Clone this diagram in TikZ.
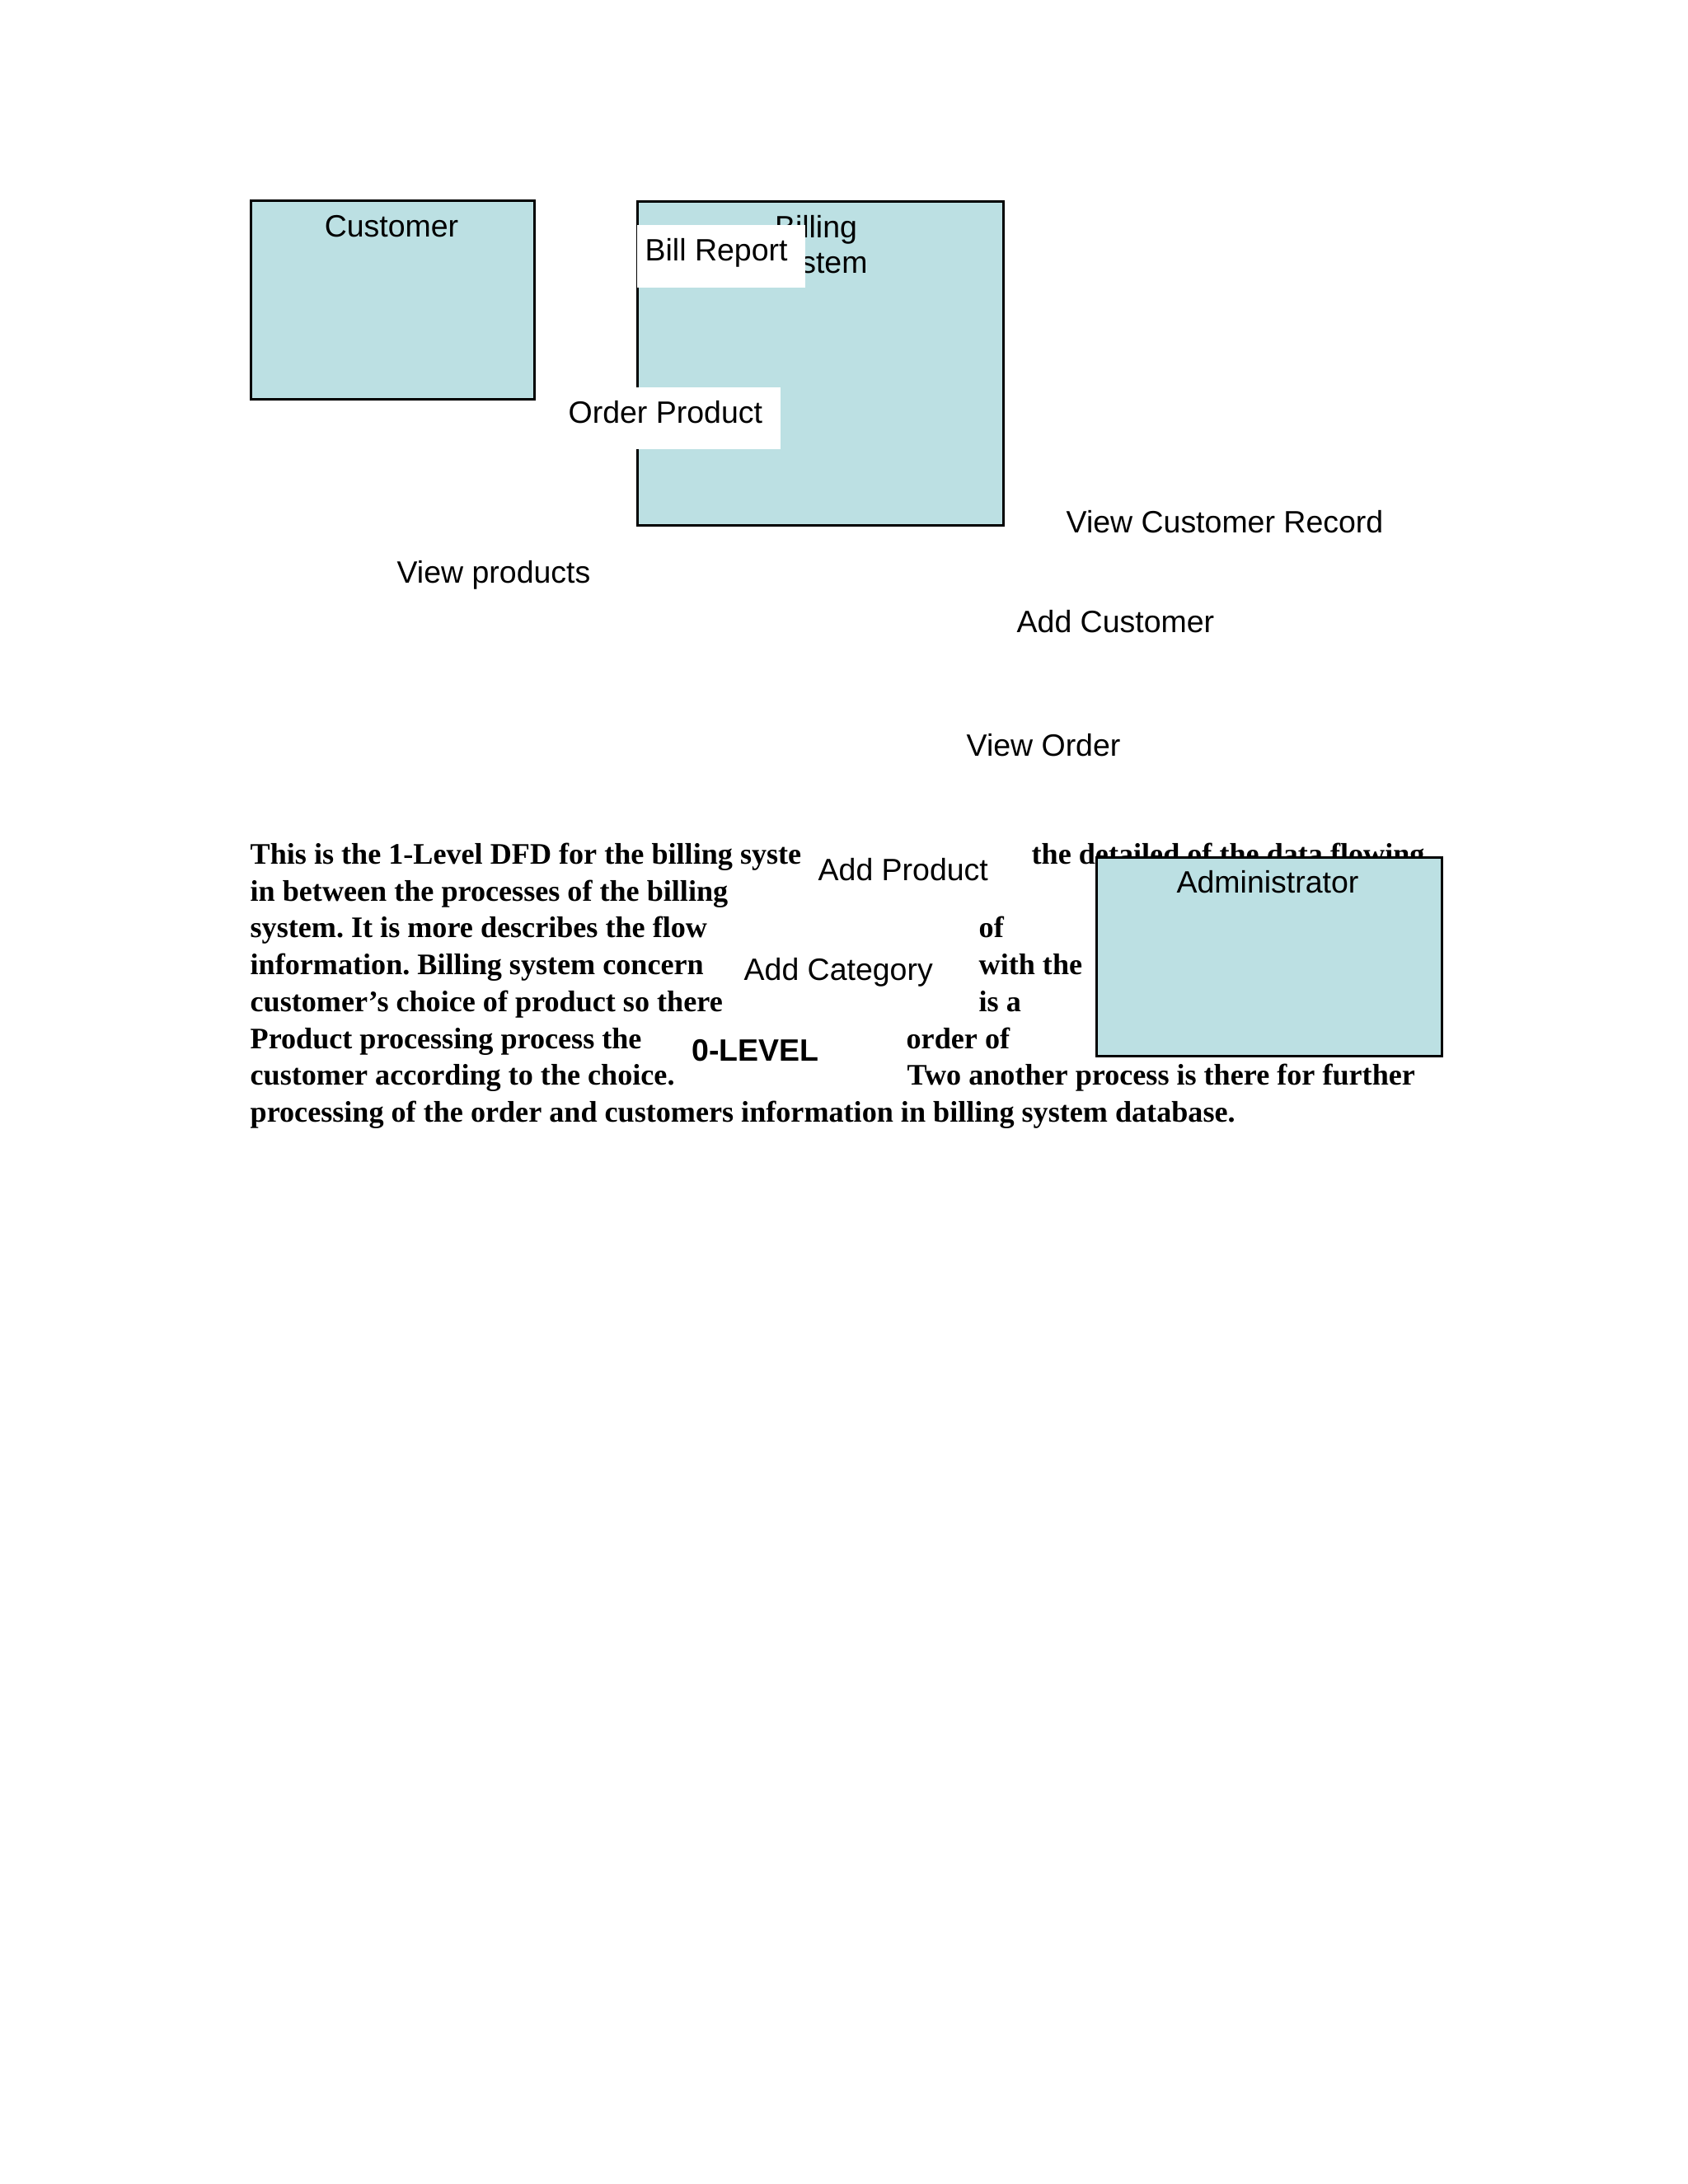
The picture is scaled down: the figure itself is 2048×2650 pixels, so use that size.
\documentclass[tikz,border=0pt]{standalone}
\usepackage{fontspec}
\newfontfamily\arialf{Liberation Sans}
\newfontfamily\timesf{Liberation Serif}
\definecolor{boxfill}{RGB}{188,224,227}
\frenchspacing
\begin{document}
\begin{tikzpicture}[x=0.29883pt,y=-0.29883pt,
  entity/.style={draw=black,line width=0.9pt,fill=boxfill,anchor=north west,inner sep=0pt},
  cover/.style={fill=white,draw=none,anchor=north west,inner sep=0pt},
  lbl/.style={font=\arialf\fontsize{11.2pt}{13pt}\selectfont,anchor=base west,inner sep=0pt},
  ctr/.style={font=\arialf\fontsize{11.2pt}{13pt}\selectfont,anchor=base,inner sep=0pt},
  para/.style={font=\timesf\bfseries\fontsize{10.8pt}{13pt}\selectfont,anchor=base west,inner sep=0pt}]
\useasboundingbox[fill=white] (0,0) rectangle (2048,2650);

% Paragraph text (visible fragments)
\node[para] (p1a) at (303,1048) {This is the 1-Level DFD for the billing syste};
\node[para] (p1b) at (1251,1048) {the detailed of the data flowing};
\node[para] (p2a) at (303,1093) {in between the processes of the billing};
\node[para] (p3a) at (303,1137) {system. It is more describes the flow};
\node[para] (p3b) at (1187,1137) {of};
\node[para] (p4a) at (303,1182) {information. Billing system concern};
\node[para] (p4b) at (1187,1182) {with the};
\node[para] (p5a) at (303,1227) {customer’s choice of product so there};
\node[para] (p5b) at (1187,1227) {is a};
\node[para] (p6a) at (303,1272) {Product processing process the};
\node[para] (p6b) at (1099,1272) {order of};
\node[para] (p7a) at (303,1316) {customer according to the choice.};
\node[para] (p7b) at (1100,1316) {Two another process is there for further};
\node[para] (p8a) at (303,1361) {processing of the order and customers information in billing system database.};

% Entities
\node[entity,minimum width=344*0.29883pt,minimum height=241*0.29883pt] (cust) at (303,242) {};
\node[ctr] (custt) at (475,287) {Customer};

\node[entity,minimum width=444*0.29883pt,minimum height=393*0.29883pt] (bill) at (772,243) {};
\node[ctr] (billt1) at (990,288) {Billing};
\node[ctr] (billt2) at (990,331) {System};

\node[entity,minimum width=419*0.29883pt,minimum height=241*0.29883pt] (admin) at (1329,1039) {};
\node[ctr] (admint) at (1538,1083) {Administrator};

% White label covers
\node[cover,minimum width=204*0.29883pt,minimum height=76*0.29883pt] (brc) at (772,272) {};
\node[lbl] (br) at (782,316) {Bill Report};
\node[cover,minimum width=277*0.29883pt,minimum height=75*0.29883pt] (opc) at (669,469) {};
\node[lbl] (op) at (689,513) {Order Product};

% Flow labels
\node[lbl] (vp) at (481,707) {View products};
\node[lbl] (vcr) at (1293,646) {View Customer Record};
\node[lbl] (ac) at (1233,767) {Add Customer};
\node[lbl] (vo) at (1172,917) {View Order};
\node[lbl] (ap) at (992,1068) {Add Product};
\node[lbl] (acat) at (902,1189) {Add Category};
\node[lbl,font=\arialf\bfseries\fontsize{11.2pt}{13pt}\selectfont] (lvl) at (839,1287) {0-LEVEL};
\end{tikzpicture}
\end{document}
